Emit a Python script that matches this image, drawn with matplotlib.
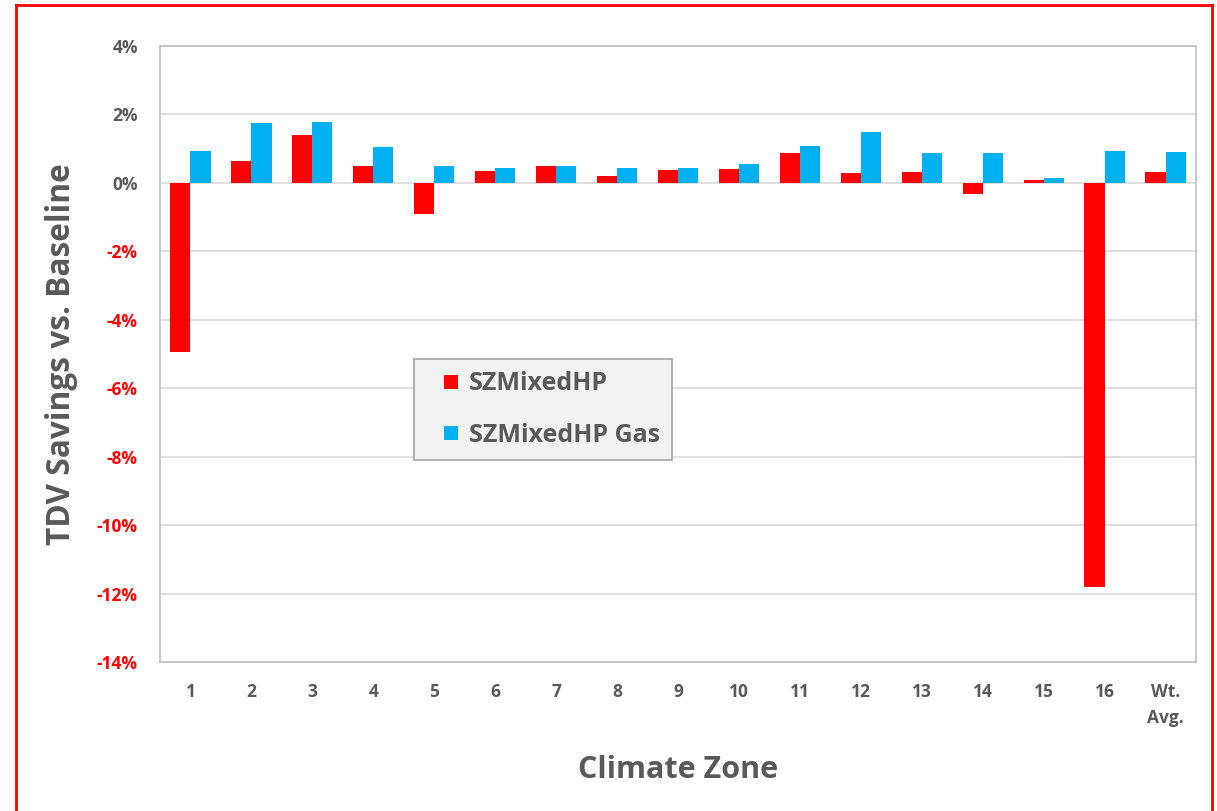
import matplotlib
matplotlib.use("Agg")
import matplotlib.pyplot as plt
import numpy as np
from matplotlib.lines import Line2D
from matplotlib.ticker import FuncFormatter

plt.rcParams['font.family'] = ['Open Sans', 'DejaVu Sans']
plt.rcParams['font.weight'] = 'bold'

zones = ["1", "2", "3", "4", "5", "6", "7", "8", "9", "10", "11", "12",
         "13", "14", "15", "16", "Wt.\nAvg."]
# TDV savings (%)
mixed_hp = [-4.93, 0.65, 1.41, 0.50, -0.90, 0.36, 0.48, 0.19, 0.38, 0.41,
            0.86, 0.29, 0.32, -0.33, 0.08, -11.80, 0.32]
mixed_hp_gas = [0.93, 1.75, 1.79, 1.05, 0.50, 0.44, 0.49, 0.43, 0.44, 0.54,
                1.07, 1.49, 0.88, 0.86, 0.14, 0.92, 0.90]
yticks = [-14, -12, -10, -8, -6, -4, -2, 0, 2, 4]

grey = '#595959'
red = '#FF0000'
blue = '#00B0F0'

fig = plt.figure(figsize=(12.17, 8.11), dpi=100)
ax = fig.add_axes([160 / 1217, 1 - 662 / 811, 1036 / 1217, 616 / 811])

x = np.arange(len(zones))
w = 0.33
ax.bar(x - w / 2, mixed_hp, w, color=red, label='SZMixedHP', zorder=3)
ax.bar(x + w / 2, mixed_hp_gas, w, color=blue, label='SZMixedHP Gas', zorder=3)

ax.set_xlim(-0.5, len(zones) - 0.5)
ax.set_ylim(-14, 4)
ax.set_yticks(yticks)
ax.yaxis.set_major_formatter(FuncFormatter(lambda v, p: f"{int(v)}%"))
ax.set_xticks(x)
ax.set_xticklabels(zones, linespacing=1.6)

ax.grid(axis='y', color='#D9D9D9', linewidth=1.2, zorder=0)
for s in ax.spines.values():
    s.set_color('#BFBFBF')
    s.set_linewidth(1.2)

ax.tick_params(axis='x', length=0, pad=15, labelsize=12.5, labelcolor=grey)
ax.tick_params(axis='y', length=0, pad=16, labelsize=12.5, labelcolor=grey)
for v, lab in zip(yticks, ax.get_yticklabels()):
    if v < 0:
        lab.set_color(red)

ax.set_xlabel('Climate Zone', fontsize=22, color=grey, fontweight='bold')
ax.xaxis.set_label_coords(0.5, -0.175)
ax.xaxis.label.set_va('center')
ax.set_ylabel('TDV Savings vs. Baseline', fontsize=22.8, color=grey, fontweight='bold')
ax.yaxis.set_label_coords(-0.0946, 0.5)
ax.yaxis.label.set_va('center')

# square legend markers
handles = [Line2D([], [], marker='s', linestyle='none', markersize=10,
                  markerfacecolor=c, markeredgewidth=0)
           for c in (red, blue)]
leg = ax.legend(handles, ['SZMixedHP', 'SZMixedHP Gas'],
                loc='upper left', bbox_to_anchor=(0.245, 0.492), borderaxespad=0,
                fancybox=False, frameon=True, facecolor='#F2F2F2', edgecolor='#A6A6A6',
                framealpha=1, fontsize=18, handlelength=2.0,
                handletextpad=-0.3, labelspacing=1.05, borderpad=0.5)
leg.get_frame().set_linewidth(1.2)
for t in leg.get_texts():
    t.set_color(grey)
    t.set_fontweight('bold')

# red outline around the chart area
for xs, ys in [([16, 16], [5, 811]), ([16, 1212], [5, 5]), ([1212, 1212], [5, 811])]:
    fig.add_artist(Line2D([v / 1217 for v in xs], [1 - v / 811 for v in ys],
                          color=red, linewidth=2, transform=fig.transFigure))

fig.savefig('out.png', dpi=100)
